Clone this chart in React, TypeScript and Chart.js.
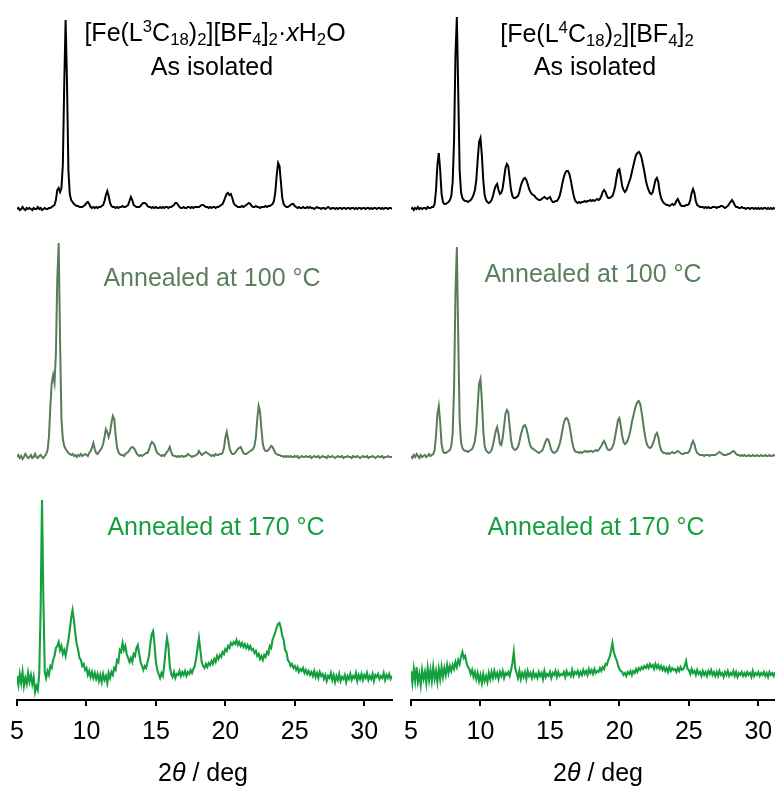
import React, { useEffect, useRef } from "react";
import { Chart, registerables } from "chart.js";

Chart.register(...registerables);

// 2θ grid (deg): 5.0 … 32.0 in 0.1° steps
const TWO_THETA_START = 5;
const TWO_THETA_STEP = 0.1;
const TWO_THETA_COUNT = 271;
const TWO_THETA = Array.from({ length: TWO_THETA_COUNT }, (_, i) =>
  Math.round((TWO_THETA_START + i * TWO_THETA_STEP) * 10) / 10
);

const TICK_VALUES = [5, 10, 15, 20, 25, 30];

// ---- [Fe(L3C18)2][BF4]2·xH2O (a.u., rows = 1° each) ----
const L3_AS_ISOLATED = [
  1, 2, 0, 1, 3, 1, 0, 2, 1, 2,
  1, 0, 2, 1, 1, 3, 1, 2, 0, 1,
  2, 1, 1, 2, 2, 3, 4, 5, 10, 20,
  22, 18, 22, 45, 125, 190, 128, 40, 16, 10,
  8, 6, 5, 4, 4, 3, 3, 3, 4, 5,
  7, 8, 6, 3, 2, 3, 2, 3, 2, 3,
  3, 4, 5, 9, 15, 19, 14, 7, 4, 3,
  3, 2, 3, 2, 3, 3, 4, 3, 3, 4,
  5, 9, 13, 10, 5, 4, 3, 3, 3, 4,
  6, 7, 7, 6, 4, 3, 3, 2, 3, 2,
  3, 2, 2, 3, 2, 3, 2, 3, 3, 2,
  3, 3, 4, 5, 7, 7, 5, 3, 2, 2,
  3, 2, 2, 3, 3, 2, 3, 2, 3, 3,
  3, 3, 4, 5, 5, 4, 3, 3, 2, 3,
  2, 3, 3, 2, 3, 3, 4, 5, 6, 9,
  13, 16, 17, 15, 16, 12, 7, 5, 4, 3,
  3, 3, 4, 3, 4, 5, 6, 7, 6, 4,
  3, 3, 4, 3, 3, 2, 3, 3, 3, 4,
  3, 4, 4, 5, 6, 9, 18, 35, 47, 44,
  28, 12, 6, 4, 3, 3, 4, 5, 6, 6,
  4, 3, 2, 3, 2, 2, 3, 2, 2, 3,
  2, 3, 2, 2, 1, 2, 3, 2, 2, 1,
  2, 2, 1, 2, 3, 2, 1, 2, 2, 1,
  2, 1, 2, 2, 1, 2, 2, 1, 2, 2,
  1, 2, 2, 1, 2, 1, 2, 2, 1, 2,
  2, 1, 2, 2, 1, 2, 1, 2, 2, 1,
  2, 2, 1, 2, 1, 2, 2, 1, 2, 2,
  1,
];

const L3_ANNEALED_100 = [
  2, 4, 1, 3, 0, 2, 5, 3, 1, 2,
  4, 1, 2, 5, 2, 1, 3, 4, 2, 1,
  3, 5, 9, 22, 52, 76, 84, 76, 105, 180,
  216, 118, 40, 20, 13, 10, 8, 6, 5, 4,
  5, 3, 4, 2, 4, 3, 5, 3, 4, 5,
  4, 3, 6, 8, 11, 16, 10, 6, 5, 7,
  9, 11, 15, 22, 30, 27, 22, 27, 36, 43,
  40, 24, 12, 7, 5, 4, 4, 3, 5, 6,
  7, 9, 11, 12, 11, 9, 6, 4, 3, 4,
  3, 4, 5, 6, 6, 9, 14, 17, 16, 14,
  9, 6, 5, 4, 3, 4, 3, 5, 7, 9,
  12, 7, 4, 3, 3, 2, 3, 2, 3, 3,
  2, 3, 3, 5, 4, 3, 2, 3, 3, 4,
  5, 8, 6, 4, 5, 6, 7, 6, 5, 4,
  3, 4, 3, 5, 4, 4, 5, 5, 6, 11,
  21, 27, 20, 11, 7, 5, 5, 6, 8, 10,
  11, 12, 9, 6, 5, 5, 6, 7, 8, 9,
  10, 13, 22, 40, 53, 47, 30, 15, 10, 8,
  8, 9, 11, 13, 12, 9, 6, 5, 4, 4,
  3, 3, 2, 3, 2, 3, 2, 3, 2, 2,
  3, 2, 3, 1, 2, 3, 2, 2, 3, 2,
  2, 3, 1, 2, 3, 2, 2, 3, 1, 2,
  3, 2, 2, 1, 3, 2, 2, 3, 2, 1,
  2, 3, 2, 2, 3, 1, 2, 2, 3, 2,
  2, 1, 3, 2, 2, 3, 2, 1, 2, 3,
  2, 2, 3, 1, 2, 2, 3, 2, 1, 2,
  3, 2, 2, 3, 1, 2, 2, 3, 2, 2,
  2,
];

const L3_ANNEALED_170 = [
  4, -5, 6, -3, 8, -6, 2, -4, 7, -2,
  5, -4, 3, -12, -6, -10, 6, 70, 180, 80,
  8, 2, 9, 5, 14, 12, 20, 24, 32, 34,
  38, 30, 34, 26, 30, 24, 32, 40, 50, 62,
  70, 60, 46, 36, 30, 22, 20, 14, 16, 10,
  12, 5, 9, 3, 8, 2, 7, 1, 6, -1,
  5, -2, 6, 0, 4, -3, 7, 2, 8, 5,
  12, 10, 20, 18, 30, 28, 37, 30, 34, 26,
  22, 18, 22, 18, 26, 24, 32, 35, 26, 18,
  14, 10, 14, 12, 18, 24, 36, 46, 49, 36,
  18, 10, 6, 2, 7, 4, 14, 30, 42, 34,
  14, 6, 3, 8, 2, 6, 5, 9, 4, 8,
  5, 9, 4, 8, 6, 10, 7, 11, 14, 22,
  32, 42, 30, 18, 14, 12, 16, 13, 17, 15,
  19, 16, 21, 18, 24, 21, 25, 23, 28, 26,
  31, 29, 34, 32, 37, 35, 38, 36, 40, 35,
  38, 34, 37, 33, 36, 32, 35, 31, 34, 30,
  31, 27, 29, 24, 26, 21, 24, 20, 25, 23,
  28, 26, 34, 32, 40, 44, 48, 53, 56, 57,
  52, 44, 40, 30, 28, 20, 18, 14, 16, 12,
  14, 10, 13, 8, 11, 9, 12, 7, 10, 6,
  9, 5, 8, 4, 9, 3, 7, 2, 8, 4,
  6, 1, 5, -1, 4, 2, 7, 0, 5, -2,
  4, 0, 6, -1, 3, 1, 5, -2, 4, 1,
  6, 0, 4, 2, 7, -1, 5, 1, 6, 0,
  5, 2, 7, 0, 4, 1, 6, -1, 5, 3,
  6, 1, 4, 2, 7, 0, 5, 2, 6, 1,
  4,
];

// ---- [Fe(L4C18)2][BF4]2 ----
const L4_AS_ISOLATED = [
  1, 2, 0, 2, 1, 3, 1, 2, 1, 2,
  2, 1, 3, 2, 2, 3, 3, 6, 20, 45,
  57, 40, 16, 8, 6, 6, 7, 8, 10, 14,
  28, 70, 155, 193, 118, 40, 18, 12, 10, 9,
  9, 8, 9, 10, 12, 15, 20, 30, 50, 68,
  72, 55, 30, 15, 10, 8, 7, 8, 10, 14,
  20, 24, 26, 20, 16, 17, 22, 32, 42, 46,
  44, 32, 20, 14, 12, 12, 13, 14, 18, 24,
  28, 31, 32, 30, 26, 21, 18, 16, 15, 14,
  12, 11, 10, 10, 11, 12, 13, 12, 11, 12,
  13, 10, 8, 8, 9, 9, 11, 14, 20, 27,
  33, 37, 39, 39, 36, 30, 22, 15, 10, 8,
  7, 8, 7, 8, 8, 9, 8, 9, 9, 10,
  9, 10, 9, 10, 11, 10, 11, 14, 18, 20,
  18, 14, 12, 12, 13, 14, 18, 24, 33, 40,
  41, 33, 24, 20, 18, 20, 24, 28, 32, 38,
  44, 50, 55, 57, 58, 56, 52, 45, 38, 30,
  24, 20, 17, 16, 18, 24, 30, 32, 28, 18,
  12, 9, 7, 6, 5, 5, 4, 5, 6, 5,
  6, 9, 11, 8, 5, 4, 4, 4, 5, 5,
  6, 10, 17, 21, 17, 9, 5, 4, 3, 3,
  3, 2, 3, 2, 3, 2, 2, 3, 3, 3,
  2, 3, 3, 4, 4, 3, 2, 3, 4, 6,
  8, 10, 8, 5, 3, 3, 2, 2, 3, 2,
  2, 1, 2, 2, 1, 2, 2, 1, 2, 1,
  2, 1, 2, 1, 2, 2, 1, 2, 1, 2,
  1, 2, 1, 2, 2, 1, 2, 1, 2, 1,
  1,
];

const L4_ANNEALED_100 = [
  2, 0, 3, 1, 4, 2, 0, 3, 1, 2,
  3, 1, 2, 4, 2, 3, 4, 8, 22, 44,
  52, 36, 14, 7, 5, 5, 6, 7, 8, 12,
  25, 70, 165, 211, 120, 38, 16, 10, 8, 7,
  7, 6, 7, 8, 9, 12, 17, 28, 52, 74,
  79, 58, 28, 12, 8, 6, 5, 6, 8, 13,
  20, 27, 31, 24, 14, 13, 20, 32, 44, 48,
  46, 32, 18, 11, 9, 8, 9, 11, 16, 23,
  28, 32, 33, 30, 24, 17, 12, 10, 9, 8,
  7, 6, 5, 6, 7, 9, 13, 17, 19, 18,
  13, 8, 6, 5, 6, 7, 10, 14, 20, 28,
  35, 39, 40, 38, 33, 25, 16, 10, 7, 6,
  6, 5, 6, 5, 6, 7, 6, 7, 6, 7,
  7, 6, 7, 8, 7, 8, 10, 12, 15, 17,
  14, 10, 8, 8, 9, 11, 15, 22, 30, 38,
  40, 32, 22, 16, 14, 15, 18, 22, 28, 36,
  42, 48, 53, 56, 57, 54, 46, 36, 26, 18,
  13, 11, 10, 11, 14, 18, 23, 25, 21, 13,
  8, 6, 5, 5, 4, 5, 4, 5, 6, 5,
  5, 6, 7, 6, 5, 4, 4, 5, 5, 5,
  6, 9, 14, 17, 14, 8, 5, 4, 3, 3,
  3, 2, 3, 3, 3, 2, 3, 3, 3, 3,
  4, 5, 6, 5, 4, 3, 3, 3, 4, 4,
  5, 6, 7, 6, 4, 3, 3, 2, 3, 2,
  3, 2, 2, 3, 2, 2, 3, 2, 2, 3,
  2, 2, 3, 2, 2, 3, 2, 2, 3, 2,
  2, 3, 2, 2, 3, 2, 2, 3, 2, 2,
  2,
];

const L4_ANNEALED_170 = [
  6, -6, 8, -4, 10, -5, 3, -8, 7, -2,
  5, -6, 9, -3, 7, -4, 10, -2, 6, -5,
  8, -2, 10, 0, 9, 2, 12, 4, 11, 6,
  12, 8, 15, 10, 17, 13, 20, 25, 19, 21,
  14, 10, 8, 3, 7, 0, 5, -2, 4, -4,
  2, -6, 3, -4, 1, -5, 4, -2, 5, -1,
  6, 0, 4, -2, 5, 1, 6, -1, 4, 2,
  5, 1, 7, 14, 25, 9, 4, -1, 6, -2,
  4, 0, 5, -2, 6, 1, 4, -1, 5, 0,
  3, -1, 5, 1, 4, -2, 6, 0, 3, 1,
  5, -1, 4, 2, 6, 0, 5, 1, 3, 2,
  5, 0, 6, 2, 4, 1, 7, 1, 5, 3,
  6, 1, 5, 2, 7, 3, 6, 2, 8, 4,
  7, 3, 8, 4, 6, 5, 9, 6, 10, 8,
  13, 12, 17, 20, 26, 34, 25, 20, 17, 12,
  8, 6, 5, 2, 4, 1, 5, 3, 6, 2,
  6, 4, 8, 5, 9, 7, 10, 8, 11, 9,
  12, 9, 13, 10, 12, 8, 13, 9, 12, 8,
  11, 7, 10, 6, 9, 5, 10, 6, 9, 7,
  8, 5, 9, 6, 10, 7, 8, 11, 16, 8,
  7, 3, 8, 4, 6, 2, 7, 3, 5, 1,
  6, 2, 5, 1, 6, 3, 7, 2, 5, 1,
  5, 1, 6, 2, 4, 0, 5, 2, 6, 1,
  4, 2, 6, 1, 5, 0, 4, 2, 5, 1,
  4, 1, 5, 2, 4, 0, 6, 1, 4, 2,
  5, 1, 4, 2, 5, 1, 4, 0, 5, 2,
  4, 1, 5, 2, 4, 1, 5, 2, 4, 1,
  3,
];

// vertical stacking offsets (a.u.)
const LEFT_OFFSETS = [490, 241, 20];
const RIGHT_OFFSETS = [490, 242, 23];

const COLORS = ["#000000", "#587c59", "#14a03e"];
const TEXT_COLORS = ["#000000", "#5b7f5c", "#14a03e"];
const FONT = "'Liberation Sans', Arial, sans-serif";

type PanelProps = {
  left: number;
  width: number;
  series: number[][];
  offsets: number[];
  xMax: number;
  padLeft: number;
  padRight: number;
};

function Panel({ left, width, series, offsets, xMax, padLeft, padRight }: PanelProps) {
  const ref = useRef<HTMLCanvasElement | null>(null);
  useEffect(() => {
    if (!ref.current) return;
    const chart = new Chart(ref.current, {
      type: "line",
      data: {
        datasets: series.map((vals, k) => ({
          data: TWO_THETA.map((x, i) => ({ x, y: vals[i] + offsets[k] })),
          borderColor: COLORS[k],
          borderWidth: k === 2 ? 2.1 : 2,
          pointRadius: 0,
          tension: 0,
          fill: false,
        })),
      },
      options: {
        animation: false,
        responsive: false,
        maintainAspectRatio: false,
        layout: { padding: { left: padLeft, right: padRight, top: 0, bottom: 0 } },
        plugins: { legend: { display: false }, tooltip: { enabled: false } },
        scales: {
          x: {
            type: "linear",
            min: 5,
            max: xMax,
            afterFit: (s: any) => {
              s.height = 87;
              s.paddingLeft = 0;
              s.paddingRight = 0;
            },
            afterBuildTicks: (s: any) => {
              s.ticks = TICK_VALUES.map((v) => ({ value: v }));
            },
            border: { display: true, color: "#000", width: 2 },
            grid: {
              display: true,
              drawOnChartArea: false,
              drawTicks: true,
              tickLength: 6,
              color: "#000",
              lineWidth: 2,
            },
            ticks: {
              color: "#000",
              font: { family: FONT, size: 25 },
              padding: 11,
              maxRotation: 0,
              autoSkip: false,
            },
          },
          y: { display: false, min: 0, max: 700 },
        },
      },
    } as any);
    return () => chart.destroy();
  }, []);
  return (
    <canvas
      ref={ref}
      width={width}
      height={787}
      style={{ position: "absolute", left, top: 0, width, height: 787 }}
    />
  );
}

const sup = (t: string) => (
  <span style={{ fontSize: "0.67em", position: "relative", top: "-0.5em" }}>{t}</span>
);
const sub = (t: string) => (
  <span style={{ fontSize: "0.67em", position: "relative", top: "0.25em" }}>{t}</span>
);

function Label({ x, baseline, color, children }: { x: number; baseline: number; color: string; children: any }) {
  return (
    <div
      style={{
        position: "absolute",
        left: x,
        top: baseline - 21.2,
        transform: "translateX(-50%)",
        fontFamily: FONT,
        fontSize: 25,
        lineHeight: "25px",
        color,
        whiteSpace: "nowrap",
      }}
    >
      {children}
    </div>
  );
}

export default function App() {
  return (
    <div
      style={{
        position: "absolute",
        left: 0,
        top: 0,
        width: 775,
        height: 787,
        background: "#fff",
        overflow: "hidden",
      }}
    >
      <Panel
        left={0}
        width={400}
        series={[L3_AS_ISOLATED, L3_ANNEALED_100, L3_ANNEALED_170]}
        offsets={LEFT_OFFSETS}
        xMax={32}
        padLeft={17}
        padRight={8}
      />
      <Panel
        left={400}
        width={375}
        series={[L4_AS_ISOLATED, L4_ANNEALED_100, L4_ANNEALED_170]}
        offsets={RIGHT_OFFSETS}
        xMax={31.2}
        padLeft={11}
        padRight={0}
      />
      <Label x={215} baseline={41} color={TEXT_COLORS[0]}>
        [Fe(L{sup("3")}C{sub("18")}){sub("2")}][BF{sub("4")}]{sub("2")}·<i>x</i>H{sub("2")}O
      </Label>
      <Label x={212} baseline={75} color={TEXT_COLORS[0]}>As isolated</Label>
      <Label x={597} baseline={42} color={TEXT_COLORS[0]}>
        [Fe(L{sup("4")}C{sub("18")}){sub("2")}][BF{sub("4")}]{sub("2")}
      </Label>
      <Label x={595} baseline={75} color={TEXT_COLORS[0]}>As isolated</Label>
      <Label x={212} baseline={286} color={TEXT_COLORS[1]}>Annealed at 100 °C</Label>
      <Label x={593} baseline={282} color={TEXT_COLORS[1]}>Annealed at 100 °C</Label>
      <Label x={216} baseline={535} color={TEXT_COLORS[2]}>Annealed at 170 °C</Label>
      <Label x={596} baseline={535} color={TEXT_COLORS[2]}>Annealed at 170 °C</Label>
      <Label x={203} baseline={781} color="#000">
        2<i>θ</i> / deg
      </Label>
      <Label x={598} baseline={781} color="#000">
        2<i>θ</i> / deg
      </Label>
    </div>
  );
}
